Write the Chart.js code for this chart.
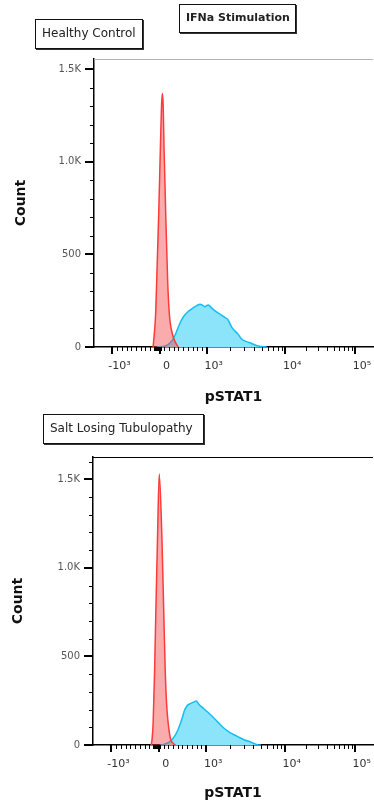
<!DOCTYPE html>
<html>
<head>
<meta charset="utf-8">
<title>pSTAT1 IFNa stimulation</title>
<script src="https://cdn.jsdelivr.net/npm/chart.js@4.4.1/dist/chart.umd.min.js"></script>
<style>
    body { margin: 0; background: #fff; }
    #page { position: relative; width: 374px; height: 809px; overflow: hidden; }
    .panel { position: absolute; left: 0; width: 374px; }
    .tag {
        position: absolute;
        box-sizing: border-box;
        border: 1px solid #111;
        box-shadow: 1px 1px 0 #333;
        background: #fff;
        font-family: "DejaVu Sans", sans-serif;
        font-size: 12px;
        color: #222;
        white-space: nowrap;
        z-index: 2;
    }
</style>
</head>
<body>
<div id="page">
    <div class="panel" style="top:0;height:406px"><canvas id="healthyChart" width="374" height="406"></canvas></div>
    <div class="panel" style="top:403px;height:406px"><canvas id="sltChart" width="374" height="406"></canvas></div>
    <div class="tag" style="left:179px;top:4px;width:117px;height:29px;line-height:26px;padding-left:6px;font-weight:bold;font-size:11px">IFNa Stimulation</div>
    <div class="tag" style="left:35px;top:19px;width:108px;height:30px;line-height:27px;padding-left:6px">Healthy Control</div>
    <div class="tag" style="left:43px;top:414px;width:161px;height:30px;line-height:27px;padding-left:6px">Salt Losing Tubulopathy</div>
</div>
<script>
// pSTAT1 axis is biexponential: x values are display channels (0-1000)
const xDecadePos = [66, 235, 404, 685, 935];
const xDecadeLabels = ["-10³", "0", "10³", "10⁴", "10⁵"];
const yMajor = [0, 500, 1000, 1500];
const yMajorLabels = ["0", "500", "1.0K", "1.5K"];

// Healthy Control
const hcUnstimCh = [212, 221, 226, 232, 238, 242, 245, 248, 251, 257, 264, 270, 281, 292, 302];
const hcUnstimCount = [0, 179, 420, 720, 1078, 1300, 1368, 1300, 1078, 720, 357, 179, 70, 25, 0];
const hcStimCh = [225, 255, 279, 290, 299, 308, 320, 338, 356, 370, 380, 390, 398, 404, 410, 422, 434, 452, 470, 480, 494, 517, 529, 559, 589, 619];
const hcStimCount = [0, 5, 32, 62, 95, 128, 162, 192, 212, 225, 231, 225, 217, 224, 227, 210, 195, 177, 159, 148, 106, 68, 43, 23, 5, 0];

// Salt Losing Tubulopathy
const sltUnstimCh = [208, 211.5, 215, 220, 225, 230.5, 236.6, 246, 252, 258, 263, 269, 276, 285, 294];
const sltUnstimCount = [0, 40, 134, 418, 796, 1174, 1530, 1174, 796, 418, 229, 116, 40, 12, 0];
const sltStimCh = [240, 258, 276, 294, 306, 318, 326, 336, 348, 358, 369, 377, 395, 419, 443, 467, 491, 515, 539, 563, 587, 599];
const sltStimCount = [0, 6, 21, 56, 96, 150, 192, 222, 234, 241, 248, 232, 206, 172, 134, 96, 68, 49, 30, 17, 2, 0];

const FONT = "DejaVu Sans";

function toPoints(ch, counts) {
    return ch.map((c, i) => ({ x: c, y: counts[i] }));
}

// minor ticks: linear steps around zero, log steps inside each decade
function xMinorTicks() {
    const [nThou, zero, thou, tenK, hundredK] = xDecadePos;
    const out = [];
    for (let k = 1; k < 20; k++) {
        if (k !== 10) out.push(nThou + (k / 20) * (thou - nThou));
    }
    for (let d = -21; d <= 6; d += 3) out.push(zero + d);
    [[thou, tenK], [tenK, hundredK]].forEach(([lo, hi]) => {
        for (let k = 2; k <= 9; k++) out.push(lo + Math.log10(k) * (hi - lo));
    });
    return out;
}

const axisMarks = {
    id: "axisMarks",
    afterDraw(chart, args, opts) {
        const { ctx, chartArea: a, scales: { x, y } } = chart;
        const seg = (x1, y1, x2, y2, w) => {
            ctx.lineWidth = w;
            ctx.beginPath();
            ctx.moveTo(x1, y1);
            ctx.lineTo(x2, y2);
            ctx.stroke();
        };
        ctx.save();
        ctx.strokeStyle = "#000";
        // y ticks
        for (let v = 100; v <= y.max; v += 100) {
            if (yMajor.includes(v)) continue;
            const py = Math.round(y.getPixelForValue(v)) + 0.5;
            seg(a.left - 4, py, a.left, py, 1);
        }
        yMajor.forEach((v) => {
            const py = Math.round(y.getPixelForValue(v));
            seg(a.left - 9, py, a.left, py, 2);
        });
        // x ticks
        xMinorTicks().forEach((v) => {
            const px = Math.round(x.getPixelForValue(v)) + 0.5;
            seg(px, a.bottom, px, a.bottom + 4, 1);
        });
        xDecadePos.forEach((v) => {
            const px = Math.round(x.getPixelForValue(v));
            seg(px, a.bottom, px, a.bottom + 7, 2);
        });
        // top frame line
        ctx.strokeStyle = opts.topColor;
        seg(a.left, a.top + 0.5, a.right, a.top + 0.5, 1);
        ctx.restore();
    },
};

function makeChart(id, unstim, stim, box) {
    const ctx = document.getElementById(id).getContext("2d");
    return new Chart(ctx, {
        type: "line",
        data: {
            datasets: [
                {
                    label: "Unstimulated",
                    data: unstim,
                    order: 0,
                    borderColor: "#ff3a3a",
                    backgroundColor: "rgba(245, 70, 70, 0.45)",
                    borderWidth: 1.5,
                    fill: "origin",
                    pointRadius: 0,
                    cubicInterpolationMode: "monotone",
                },
                {
                    label: "IFNa",
                    data: stim,
                    order: 1,
                    borderColor: "#14bef0",
                    backgroundColor: "#8ce4fa",
                    borderWidth: 1.5,
                    fill: "origin",
                    pointRadius: 0,
                    cubicInterpolationMode: "monotone",
                },
            ],
        },
        options: {
            responsive: false,
            animation: false,
            layout: {
                autoPadding: false,
                padding: { top: box.top, left: 0, right: 1, bottom: 0 },
            },
            plugins: {
                legend: { display: false },
                tooltip: { enabled: false },
                axisMarks: { topColor: box.topColor },
            },
            scales: {
                x: {
                    type: "linear",
                    min: 0,
                    max: 1000,
                    afterBuildTicks: (s) => {
                        s.ticks = xDecadePos.map((v) => ({ value: v }));
                    },
                    afterFit: (s) => {
                        s.height = box.xHeight;
                        s.paddingLeft = 0;
                        s.paddingRight = 0;
                    },
                    grid: { display: false, drawTicks: false },
                    border: { display: true, color: "#000", width: 1.5 },
                    ticks: {
                        autoSkip: false,
                        maxRotation: 0,
                        padding: 13,
                        labelOffset: 7,
                        color: "#333",
                        font: { family: FONT, size: 11 },
                        callback: (v, i) => xDecadeLabels[i],
                    },
                    title: {
                        display: true,
                        text: "pSTAT1",
                        color: "#111",
                        font: { family: FONT, size: 14, weight: "bold" },
                        padding: { top: 0, bottom: box.xTitlePad },
                    },
                },
                y: {
                    type: "linear",
                    min: 0,
                    max: box.yMax,
                    afterBuildTicks: (s) => {
                        s.ticks = yMajor.map((v) => ({ value: v }));
                    },
                    afterFit: (s) => {
                        s.width = box.yWidth;
                        s.paddingTop = 0;
                        s.paddingBottom = 0;
                    },
                    grid: { display: false, drawTicks: false },
                    border: { display: true, color: "#000", width: 1.5 },
                    ticks: {
                        padding: 13,
                        color: "#555",
                        font: { family: FONT, size: 10 },
                        callback: (v, i) => yMajorLabels[i],
                    },
                    title: {
                        display: true,
                        text: "Count",
                        color: "#111",
                        font: { family: FONT, size: 14, weight: "bold" },
                        padding: { top: box.yTitlePad, bottom: 0 },
                    },
                },
            },
        },
        plugins: [axisMarks],
    });
}

makeChart("healthyChart", toPoints(hcUnstimCh, hcUnstimCount), toPoints(hcStimCh, hcStimCount), {
    top: 59, xHeight: 59, yWidth: 94, yMax: 1554, xTitlePad: 0.6, yTitlePad: 12.6, topColor: "#b4b4b4",
});
makeChart("sltChart", toPoints(sltUnstimCh, sltUnstimCount), toPoints(sltStimCh, sltStimCount), {
    top: 54, xHeight: 64, yWidth: 93, yMax: 1626, xTitlePad: 6.9, yTitlePad: 9.9, topColor: "#000",
});
</script>
</body>
</html>
